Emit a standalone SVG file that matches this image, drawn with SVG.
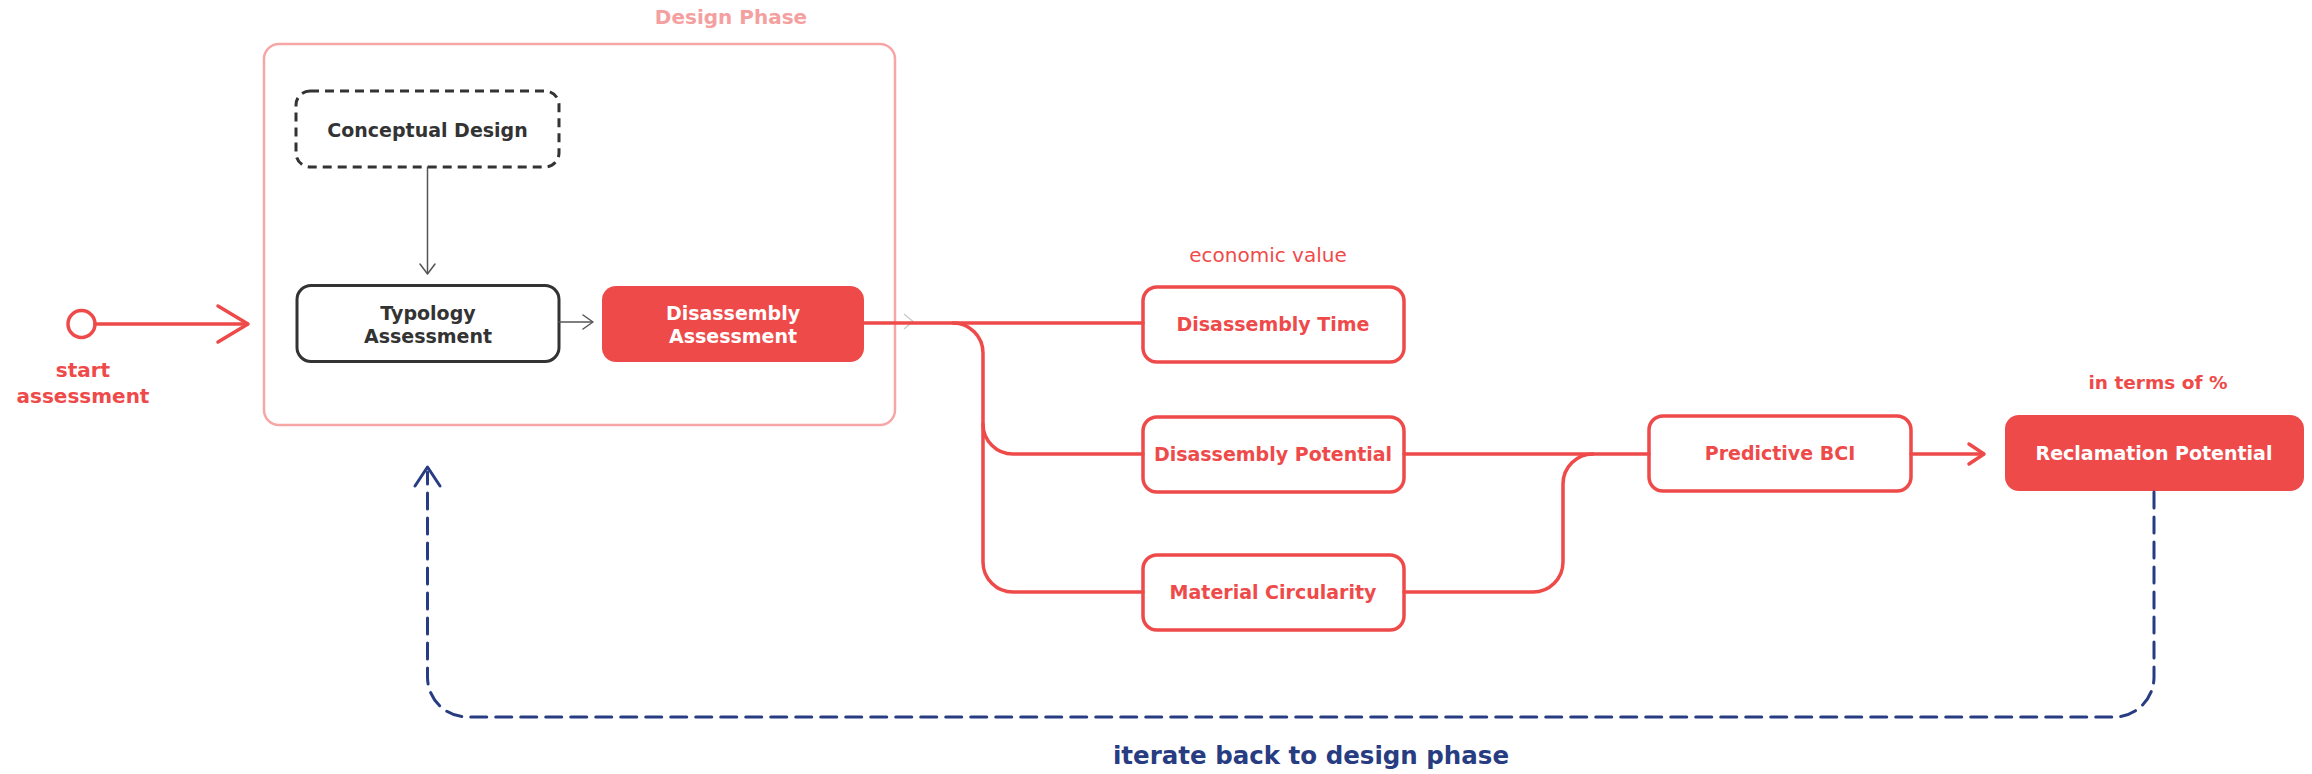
<svg xmlns="http://www.w3.org/2000/svg" width="2312" height="774" viewBox="0 0 2312 774">
  <style>
    .t { font-family: "DejaVu Sans", "Liberation Sans", sans-serif; font-weight: bold; text-anchor: middle; }
    .lbl { font-size: 19px; }
    .red { fill: #EF4A4A; }
    .dark { fill: #333333; }
    .white { fill: #FFFFFF; }
    .box { fill: #FFFFFF; stroke: #EF4A4A; stroke-width: 3.5; }
    .fbox { fill: #EF4A4A; stroke: none; }
    .rl { fill: none; stroke: #EF4A4A; stroke-width: 3.5; stroke-linecap: round; stroke-linejoin: round; }
    .thin { fill: none; stroke: #555555; stroke-width: 1.5; stroke-linecap: round; stroke-linejoin: round; }
    .navy { fill: none; stroke: #283C82; stroke-width: 3; stroke-linecap: round; stroke-linejoin: round; }
  </style>

  <g id="design-phase">
    <rect x="264" y="44" width="631" height="381" rx="15" fill="none" stroke="#F7A6A6" stroke-width="2.5"/>
    <text class="t" x="731" y="24" font-size="20" fill="#F5A0A0">Design Phase</text>
  </g>

  <g id="start">
    <circle cx="81.5" cy="324" r="13.5" fill="#FFFFFF" stroke="#EF4A4A" stroke-width="3.5"/>
    <text class="t red" x="83" y="377" font-size="20">start</text>
    <text class="t red" x="83" y="403" font-size="20">assessment</text>
  </g>

  <g id="conceptual-design">
    <rect x="296" y="91" width="263" height="76" rx="14" fill="#FFFFFF" stroke="#333333" stroke-width="3" stroke-dasharray="9 6"/>
    <text class="t lbl dark" x="427.5" y="137">Conceptual Design</text>
  </g>

  <g id="typology-assessment">
    <rect x="297" y="285.5" width="262" height="76" rx="14" fill="#FFFFFF" stroke="#333333" stroke-width="3"/>
    <text class="t lbl dark" x="428" y="320">Typology</text>
    <text class="t lbl dark" x="428" y="343">Assessment</text>
  </g>

  <g id="disassembly-assessment">
    <rect class="fbox" x="602" y="286" width="262" height="76" rx="14"/>
    <text class="t lbl white" x="733" y="320">Disassembly</text>
    <text class="t lbl white" x="733" y="343">Assessment</text>
  </g>

  <g id="economic-value">
    <text x="1268" y="262" font-family="DejaVu Sans, Liberation Sans, sans-serif" font-size="20" text-anchor="middle" fill="#EF4A4A">economic value</text>
  </g>

  <g id="disassembly-time">
    <rect class="box" x="1143" y="287" width="261" height="75" rx="14"/>
    <text class="t lbl red" x="1273" y="331">Disassembly Time</text>
  </g>

  <g id="disassembly-potential">
    <rect class="box" x="1143" y="417" width="261" height="75" rx="14"/>
    <text class="t lbl red" x="1273" y="461">Disassembly Potential</text>
  </g>

  <g id="material-circularity">
    <rect class="box" x="1143" y="555" width="261" height="75" rx="14"/>
    <text class="t lbl red" x="1273" y="599">Material Circularity</text>
  </g>

  <g id="predictive-bci">
    <rect class="box" x="1649" y="416" width="262" height="75" rx="14"/>
    <text class="t lbl red" x="1780" y="460">Predictive BCI</text>
  </g>

  <g id="reclamation-potential">
    <rect class="fbox" x="2005" y="415" width="299" height="76" rx="14"/>
    <text class="t lbl white" x="2154" y="460">Reclamation Potential</text>
    <text class="t red" x="2158" y="389" font-size="18.5">in terms of %</text>
  </g>

  <g id="iterate-label">
    <text class="t" x="1311" y="764" font-size="24.5" fill="#283C82">iterate back to design phase</text>
  </g>

  <g id="connectors">
    <path class="rl" d="M95 324 H247"/>
    <path class="rl" d="M218 306 L248 324 L218 342"/>
    <path class="thin" d="M427.5 167 V273"/>
    <path class="thin" d="M420 264 L427.5 274 L435 264"/>
    <path class="thin" d="M559 322 H592"/>
    <path class="thin" d="M583 315 L593 322 L583 329"/>
    <path d="M904 314 L913 321.5 L904 329" fill="none" stroke="#CCCCCC" stroke-width="1.5"/>
    <path class="rl" d="M864 323 H1143"/>
    <path class="rl" d="M953 323 A30 30 0 0 1 983 353 V562 A30 30 0 0 0 1013 592 H1143"/>
    <path class="rl" d="M983 424 A30 30 0 0 0 1013 454 H1143"/>
    <path class="rl" d="M1404 454 H1649"/>
    <path class="rl" d="M1404 592 H1533 A30 30 0 0 0 1563 562 V484 A30 30 0 0 1 1593 454"/>
    <path class="rl" d="M1911 454 H1983"/>
    <path class="rl" d="M1969 444 L1984 454 L1969 464"/>
    <path class="navy" d="M2154 492 V677 A40 40 0 0 1 2114 717 H467 A40 40 0 0 1 427.5 677 V472" stroke-dasharray="16 9" stroke-linecap="butt"/>
    <path class="navy" d="M415 486 L427.5 467 L440 486"/>
  </g>
</svg>
